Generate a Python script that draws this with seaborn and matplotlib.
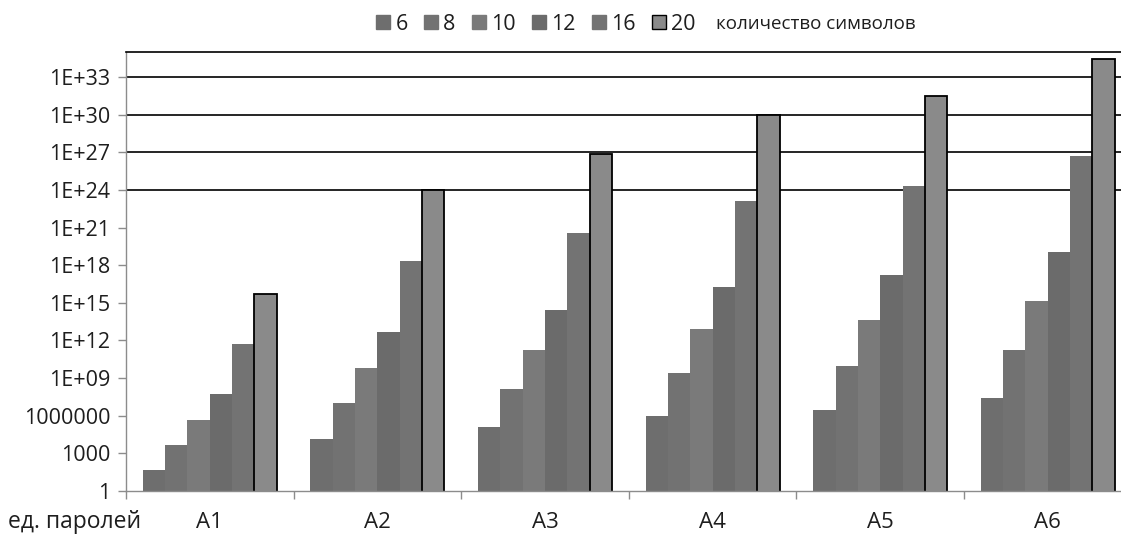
import numpy as np
import pandas as pd
import matplotlib
matplotlib.use('Agg')
import matplotlib.pyplot as plt
from matplotlib.patches import Patch
from matplotlib.ticker import NullLocator
import seaborn as sns

# Data (log-scale values)
alphabets = ['A1', 'A2', 'A3', 'A4', 'A5', 'A6']
lengths = ['6', '8', '10', '12', '16', '20']
a1 = [5.0e1, 5.0e3, 5.0e5, 5.0e7, 5.0e11, 5.0e15]
a2 = [1.3e4, 1.0e7, 6.9e9, 4.7e12, 2.2e18, 1.0e24]
a3 = [1.2e5, 1.3e8, 1.8e11, 2.5e14, 3.5e20, 7.2e26]
a4 = [1.0e6, 2.5e9, 7.9e12, 2.0e16, 1.3e23, 8.7e29]
a5 = [2.8e6, 9.3e9, 4.0e13, 1.6e17, 1.9e24, 3.0e31]
a6 = [2.5e7, 1.8e11, 1.3e15, 1.1e19, 5.4e26, 3.0e34]
ytick_labels = ['1', '1000', '1000000', '1E+09', '1E+12', '1E+15', '1E+18',
                '1E+21', '1E+24', '1E+27', '1E+30', '1E+33']
xlabel_text = 'ед. паролей'
legend_title = 'количество символов'

series = [a1, a2, a3, a4, a5, a6]
rows = []
for name, vals in zip(alphabets, series):
    for ln, v in zip(lengths, vals):
        rows.append({'alphabet': name, 'length': ln, 'value': v})
df = pd.DataFrame(rows)

colors = ['#6e6e6e', '#727272', '#7a7a7a', '#6b6b6b', '#737373', '#8a8a8a']

sns.set_style('white')
plt.rcParams['font.family'] = ['Open Sans', 'DejaVu Sans']
text_color = '#1e1e1e'
axis_gray = '#8c8c8c'

fig = plt.figure(figsize=(11.21, 5.34), dpi=100)
ax = fig.add_axes([126 / 1121, 43 / 534, 1005.6 / 1121, 439 / 534])
ax.set_yscale('log')

sns.barplot(data=df, x='alphabet', y='value', hue='length', hue_order=lengths,
            order=alphabets, palette=colors, errorbar=None, width=0.8,
            saturation=1, ax=ax, linewidth=0)

# black outline on the 20-symbol bars
for bar in ax.containers[5]:
    bar.set_edgecolor('black')
    bar.set_linewidth(1.3)

ax.set_ylim(1, 1e35)
ax.set_xlim(-0.5, 5.5)

# y axis
ytick_vals = 10.0 ** np.arange(0, 34, 3)
ax.set_yticks(ytick_vals)
ax.set_yticklabels(ytick_labels)
ax.yaxis.set_minor_locator(NullLocator())
ax.tick_params(axis='y', which='major', direction='out', length=5.8, width=1,
               color=axis_gray, pad=5.5, labelsize=15.5, labelcolor=text_color,
               left=True)

# gridlines only in the upper part, as in the original
for v in ytick_vals:
    if v >= 1e24:
        ax.axhline(v, color='black', lw=1.2, zorder=0.5)

# x axis: ticks at category boundaries, labels at centres
ax.set_xticks(np.arange(-0.5, 6, 1))
ax.set_xticklabels([''] * 7)
ax.set_xticks(np.arange(6), minor=True)
ax.set_xticklabels(alphabets, minor=True)
ax.tick_params(axis='x', which='major', direction='out', length=6, width=1,
               color=axis_gray, bottom=True)
ax.tick_params(axis='x', which='minor', length=0, pad=15, labelsize=16,
               labelcolor=text_color)
ax.set_xlabel('')
ax.set_ylabel('')

for side in ['left', 'bottom']:
    ax.spines[side].set_color(axis_gray)
    ax.spines[side].set_linewidth(1)
ax.spines['top'].set_color('black')
ax.spines['top'].set_linewidth(1.2)
ax.spines['right'].set_visible(False)

# legend
if ax.get_legend() is not None:
    ax.get_legend().remove()
handles = [Patch(facecolor=c, edgecolor=('black' if ln == '20' else c), linewidth=1)
           for c, ln in zip(colors, lengths)]
fig.legend(handles, lengths, loc='center', bbox_to_anchor=(536 / 1121, 1 - 24 / 534),
           ncol=6, frameon=False, fontsize=15.5, handlelength=0.65, handleheight=0.65,
           handletextpad=0.25, columnspacing=0.75, labelcolor=text_color,
           borderaxespad=0, borderpad=0)
fig.text(716 / 1121, 1 - 24 / 534, legend_title, fontsize=13.5, color=text_color,
         ha='left', va='center')

fig.text(8 / 1121, 1 - 522 / 534, xlabel_text, fontsize=16.5, color=text_color,
         ha='left', va='center')

fig.savefig('out.png', dpi=100)
